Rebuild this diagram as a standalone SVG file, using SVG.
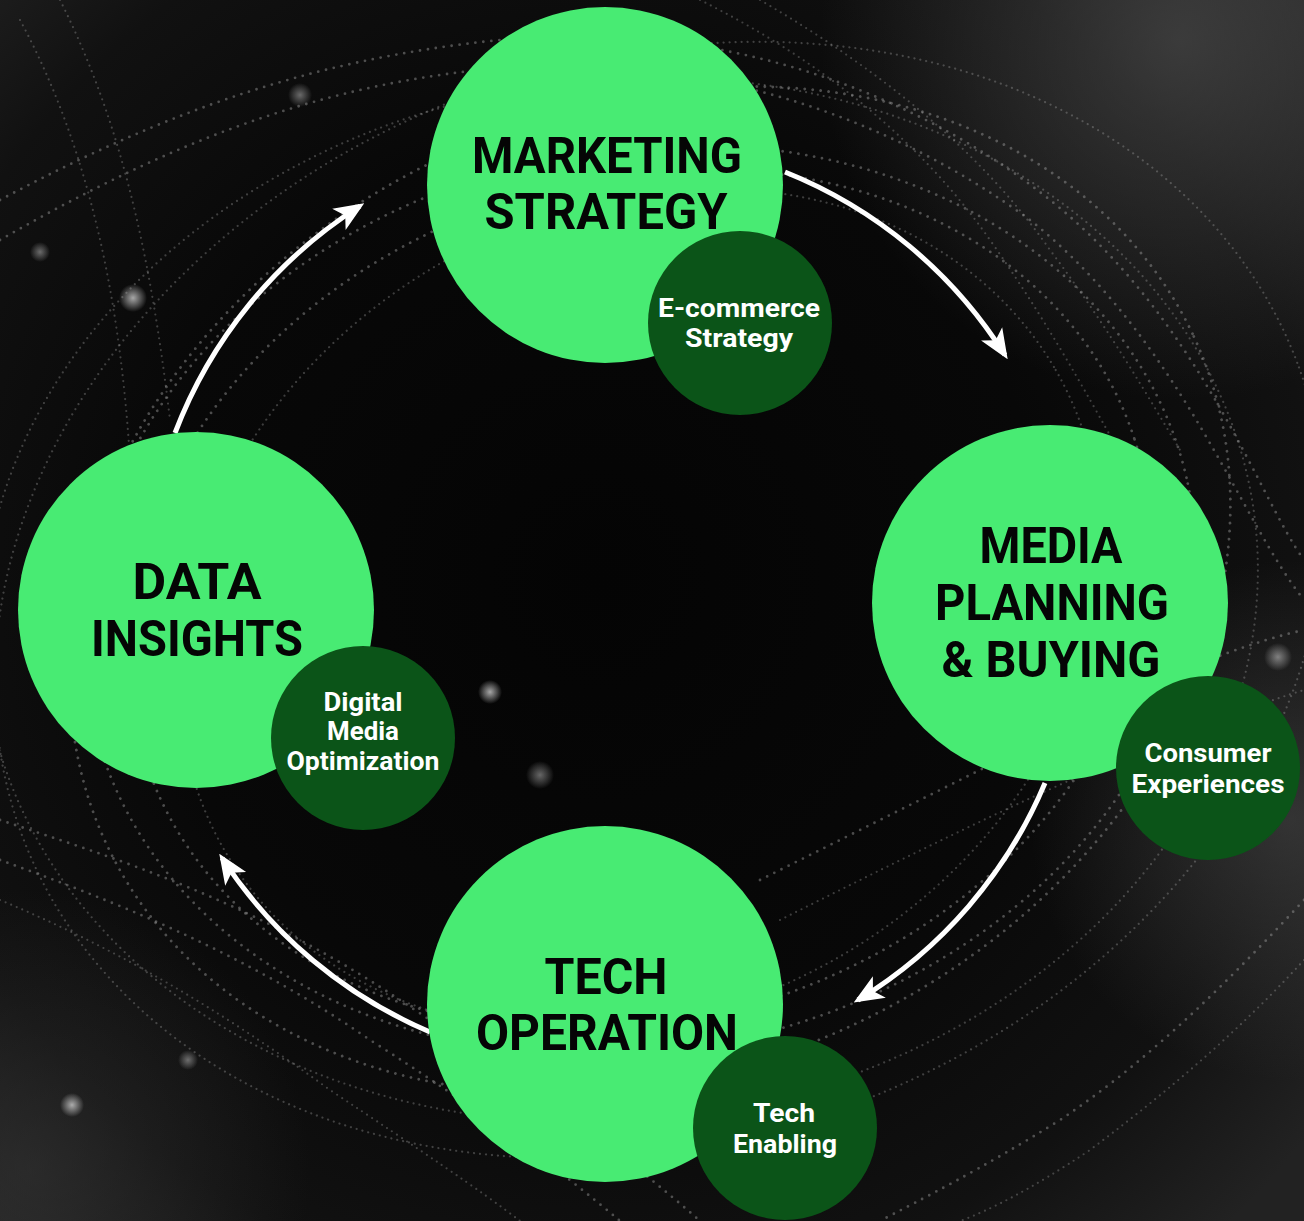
<svg xmlns="http://www.w3.org/2000/svg" width="1304" height="1221" viewBox="0 0 1304 1221">
  <defs>
    <radialGradient id="bg" cx="600" cy="580" r="900" gradientUnits="userSpaceOnUse">
      <stop offset="0" stop-color="#040404"/>
      <stop offset="0.5" stop-color="#080808"/>
      <stop offset="0.8" stop-color="#111111"/>
      <stop offset="1" stop-color="#222222"/>
    </radialGradient>
    <radialGradient id="haze1" cx="1180" cy="40" r="360" gradientUnits="userSpaceOnUse">
      <stop offset="0" stop-color="#4a4a4a" stop-opacity="0.7"/>
      <stop offset="1" stop-color="#4a4a4a" stop-opacity="0"/>
    </radialGradient>
    <radialGradient id="haze2" cx="1290" cy="820" r="260" gradientUnits="userSpaceOnUse">
      <stop offset="0" stop-color="#555" stop-opacity="0.5"/>
      <stop offset="1" stop-color="#555" stop-opacity="0"/>
    </radialGradient>
    <radialGradient id="haze3" cx="30" cy="1170" r="280" gradientUnits="userSpaceOnUse">
      <stop offset="0" stop-color="#3a3a3a" stop-opacity="0.5"/>
      <stop offset="1" stop-color="#3a3a3a" stop-opacity="0"/>
    </radialGradient>
    <radialGradient id="bokeh">
      <stop offset="0" stop-color="#cfcfcf" stop-opacity="0.8"/>
      <stop offset="1" stop-color="#cfcfcf" stop-opacity="0"/>
    </radialGradient>
    <marker id="ah" viewBox="0 0 12 10" refX="10" refY="5" markerWidth="6" markerHeight="5.5" orient="auto" markerUnits="strokeWidth">
      <path d="M0,0 L12,5 L0,10 L3,5 Z" fill="#ffffff"/>
    </marker>
    <style>
      .dots { fill: none; stroke: #a0a0a0; stroke-width: 2.8; stroke-linecap: round; stroke-dasharray: 0 8; opacity: 0.45; }
      .dots2 { fill: none; stroke: #bdbdbd; stroke-width: 2.2; stroke-linecap: round; stroke-dasharray: 0 6; opacity: 0.3; }
      .big { fill: #48eb73; }
      .small { fill: #0b5418; }
      .title { font-family: Roboto, "Liberation Sans", sans-serif; font-weight: 700; font-size: 50px; fill: #050505; text-anchor: middle; }
      .sub { font-family: Roboto, "Liberation Sans", sans-serif; font-weight: 700; font-size: 25px; fill: #ffffff; text-anchor: middle; }
      .conn { fill: none; stroke: #ffffff; stroke-width: 5; marker-end: url(#ah); }
    </style>
  </defs>

  <g id="background">
    <rect x="0" y="0" width="1304" height="1221" fill="url(#bg)"/>
    <rect x="0" y="0" width="1304" height="1221" fill="url(#haze1)"/>
    <rect x="0" y="0" width="1304" height="1221" fill="url(#haze2)"/>
    <rect x="0" y="0" width="1304" height="1221" fill="url(#haze3)"/>
    <g>
      <ellipse class="dots" cx="640" cy="600" rx="520" ry="420" transform="rotate(-18 640 600)"/>
      <ellipse class="dots" cx="640" cy="600" rx="560" ry="450" transform="rotate(-12 640 600)"/>
      <ellipse class="dots" cx="650" cy="590" rx="600" ry="480" transform="rotate(-25 650 590)"/>
      <ellipse class="dots2" cx="640" cy="610" rx="480" ry="400" transform="rotate(-30 640 610)"/>
      <ellipse class="dots2" cx="620" cy="600" rx="640" ry="520" transform="rotate(-8 620 600)"/>
      <ellipse class="dots2" cx="660" cy="600" rx="680" ry="540" transform="rotate(-20 660 600)"/>
      <path class="dots" d="M0,200 C150,120 300,60 500,40 C700,20 900,80 1050,200 C1200,320 1260,500 1304,560"/>
      <path class="dots" d="M0,240 C140,160 290,90 480,70 C690,50 880,110 1030,220 C1180,340 1240,520 1304,600"/>
      <path class="dots2" d="M60,0 C120,120 150,250 170,420"/>
      <path class="dots2" d="M20,20 C90,150 120,300 130,460"/>
      <path class="dots" d="M0,820 C120,860 250,900 400,1000 C520,1080 620,1150 700,1221"/>
      <path class="dots" d="M0,860 C110,900 240,950 370,1040 C480,1110 560,1170 620,1221"/>
      <path class="dots2" d="M0,900 C120,950 220,1010 330,1090 C420,1150 480,1190 520,1221"/>
      <path class="dots" d="M760,880 C880,820 1000,760 1120,700 C1200,660 1260,640 1304,630"/>
      <path class="dots2" d="M780,920 C900,860 1020,800 1140,750 C1220,720 1270,700 1304,690"/>
      <path class="dots" d="M1304,900 C1230,980 1150,1060 1060,1120 C980,1170 920,1200 880,1221"/>
      <path class="dots2" d="M1304,960 C1240,1030 1170,1090 1090,1150 C1030,1190 990,1210 960,1221"/>
      <path class="dots2" d="M700,0 C820,60 920,140 990,240 C1060,340 1100,420 1130,470"/>
      <path class="dots2" d="M760,0 C880,70 980,150 1050,250 C1110,330 1150,400 1180,450"/>
    </g>
    <g>
      <circle cx="133" cy="298" r="14" fill="url(#bokeh)"/>
      <circle cx="490" cy="692" r="12" fill="url(#bokeh)"/>
      <circle cx="540" cy="775" r="14" fill="url(#bokeh)" opacity="0.6"/>
      <circle cx="72" cy="1105" r="12" fill="url(#bokeh)"/>
      <circle cx="188" cy="1060" r="10" fill="url(#bokeh)" opacity="0.6"/>
      <circle cx="1278" cy="657" r="14" fill="url(#bokeh)" opacity="0.7"/>
      <circle cx="300" cy="95" r="12" fill="url(#bokeh)" opacity="0.6"/>
      <circle cx="40" cy="252" r="10" fill="url(#bokeh)" opacity="0.6"/>
    </g>
  </g>

  <g id="connectors">
    <path class="conn" d="M785,172 A465,465 0 0 1 1005,355"/>
    <path class="conn" d="M1045,783 A465,465 0 0 1 858,1000"/>
    <path class="conn" d="M430,1032 A465,465 0 0 1 222,858"/>
    <path class="conn" d="M175,433 A465,465 0 0 1 360,206"/>
  </g>

  <g id="marketing-strategy">
    <circle class="big" cx="605" cy="185" r="178"/>
    <text class="title" x="607" y="173" textLength="270" lengthAdjust="spacingAndGlyphs">MARKETING</text>
    <text class="title" x="606" y="229" textLength="243" lengthAdjust="spacingAndGlyphs">STRATEGY</text>
  </g>
  <g id="ecommerce-strategy">
    <circle class="small" cx="740" cy="323" r="92"/>
    <text class="sub" x="739" y="317" textLength="162" lengthAdjust="spacingAndGlyphs">E-commerce</text>
    <text class="sub" x="739" y="347" textLength="108" lengthAdjust="spacingAndGlyphs">Strategy</text>
  </g>

  <g id="media-planning-buying">
    <circle class="big" cx="1050" cy="603" r="178"/>
    <text class="title" x="1051" y="563" textLength="143" lengthAdjust="spacingAndGlyphs">MEDIA</text>
    <text class="title" x="1052" y="620" textLength="234" lengthAdjust="spacingAndGlyphs">PLANNING</text>
    <text class="title" x="1051" y="677" textLength="219" lengthAdjust="spacingAndGlyphs">&amp; BUYING</text>
  </g>
  <g id="consumer-experiences">
    <circle class="small" cx="1208" cy="768" r="92"/>
    <text class="sub" x="1208" y="762" textLength="127" lengthAdjust="spacingAndGlyphs">Consumer</text>
    <text class="sub" x="1208" y="793" textLength="153" lengthAdjust="spacingAndGlyphs">Experiences</text>
  </g>

  <g id="tech-operation">
    <circle class="big" cx="605" cy="1004" r="178"/>
    <text class="title" x="606" y="994" textLength="123" lengthAdjust="spacingAndGlyphs">TECH</text>
    <text class="title" x="607" y="1050" textLength="262" lengthAdjust="spacingAndGlyphs">OPERATION</text>
  </g>
  <g id="tech-enabling">
    <circle class="small" cx="785" cy="1128" r="92"/>
    <text class="sub" x="784" y="1122" textLength="62" lengthAdjust="spacingAndGlyphs">Tech</text>
    <text class="sub" x="785" y="1153" textLength="104" lengthAdjust="spacingAndGlyphs">Enabling</text>
  </g>

  <g id="data-insights">
    <circle class="big" cx="196" cy="610" r="178"/>
    <text class="title" x="197" y="599" textLength="129" lengthAdjust="spacingAndGlyphs">DATA</text>
    <text class="title" x="197" y="656" textLength="212" lengthAdjust="spacingAndGlyphs">INSIGHTS</text>
  </g>
  <g id="digital-media-optimization">
    <circle class="small" cx="363" cy="738" r="92"/>
    <text class="sub" x="363" y="711" textLength="79" lengthAdjust="spacingAndGlyphs">Digital</text>
    <text class="sub" x="363" y="740" textLength="72" lengthAdjust="spacingAndGlyphs">Media</text>
    <text class="sub" x="363" y="770" textLength="153" lengthAdjust="spacingAndGlyphs">Optimization</text>
  </g>
</svg>
